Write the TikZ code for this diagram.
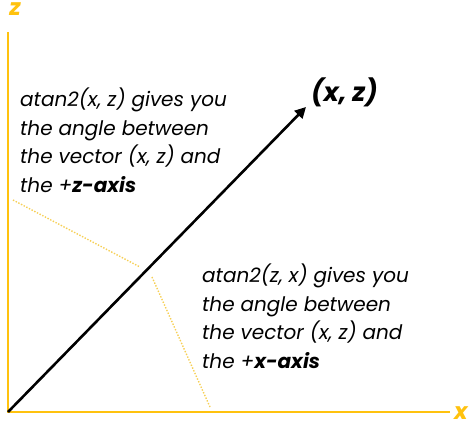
\documentclass[tikz,border=0pt]{standalone}
\usepackage{fontspec}
\setmainfont{Poppins}
\usetikzlibrary{arrows.meta}
\definecolor{axisyellow}{HTML}{FFC20E}
\definecolor{dotyellow}{HTML}{F6CF55}
\begin{document}
\begin{tikzpicture}[x=1pt,y=-1pt,
  axis/.style={draw=axisyellow,line width=2pt},
  axislabel/.style={text=axisyellow,font=\fontsize{23}{23}\selectfont\bfseries\itshape,inner sep=0pt},
  vec/.style={draw=black,line width=2.6pt,-{Triangle[length=11pt,width=11pt]}},
  guide/.style={draw=dotyellow,line width=1.4pt,dash pattern=on 1.4pt off 1.6pt},
  note/.style={align=left,anchor=north west,inner sep=0pt,font=\fontsize{20}{28.5}\selectfont\itshape}]
\useasboundingbox (0,0) rectangle (474,426);
\coordinate (O) at (8,412);
\coordinate (Ztop) at (8,32);
\coordinate (Xend) at (450,412);
\coordinate (V) at (306,107);
\draw[axis] (Ztop) -- (O) -- (Xend);
\node[axislabel] (zl) at (15,9) {z};
\node[axislabel] (xl) at (461,413) {x};
\draw[vec] (O) -- (V);
\node[font=\fontsize{26}{26}\selectfont\bfseries\itshape,anchor=west,inner sep=0pt] (vl) at (311,92) {(x, z)};
\coordinate (g1a) at (13,200);
\coordinate (g1b) at (140,267);
\coordinate (g2a) at (152,277);
\coordinate (g2b) at (210,407);
\draw[guide] (g1a) -- (g1b);
\draw[guide] (g2a) -- (g2b);
\node[note] (t1) at (20,88) {atan2(x, z) gives you\\the angle between\\the vector (x, z) and\\the +\textbf{z-axis}};
\node[note] (t2) at (202,264) {atan2(z, x) gives you\\the angle between\\the vector (x, z) and\\the +\textbf{x-axis}};
\end{tikzpicture}
\end{document}
